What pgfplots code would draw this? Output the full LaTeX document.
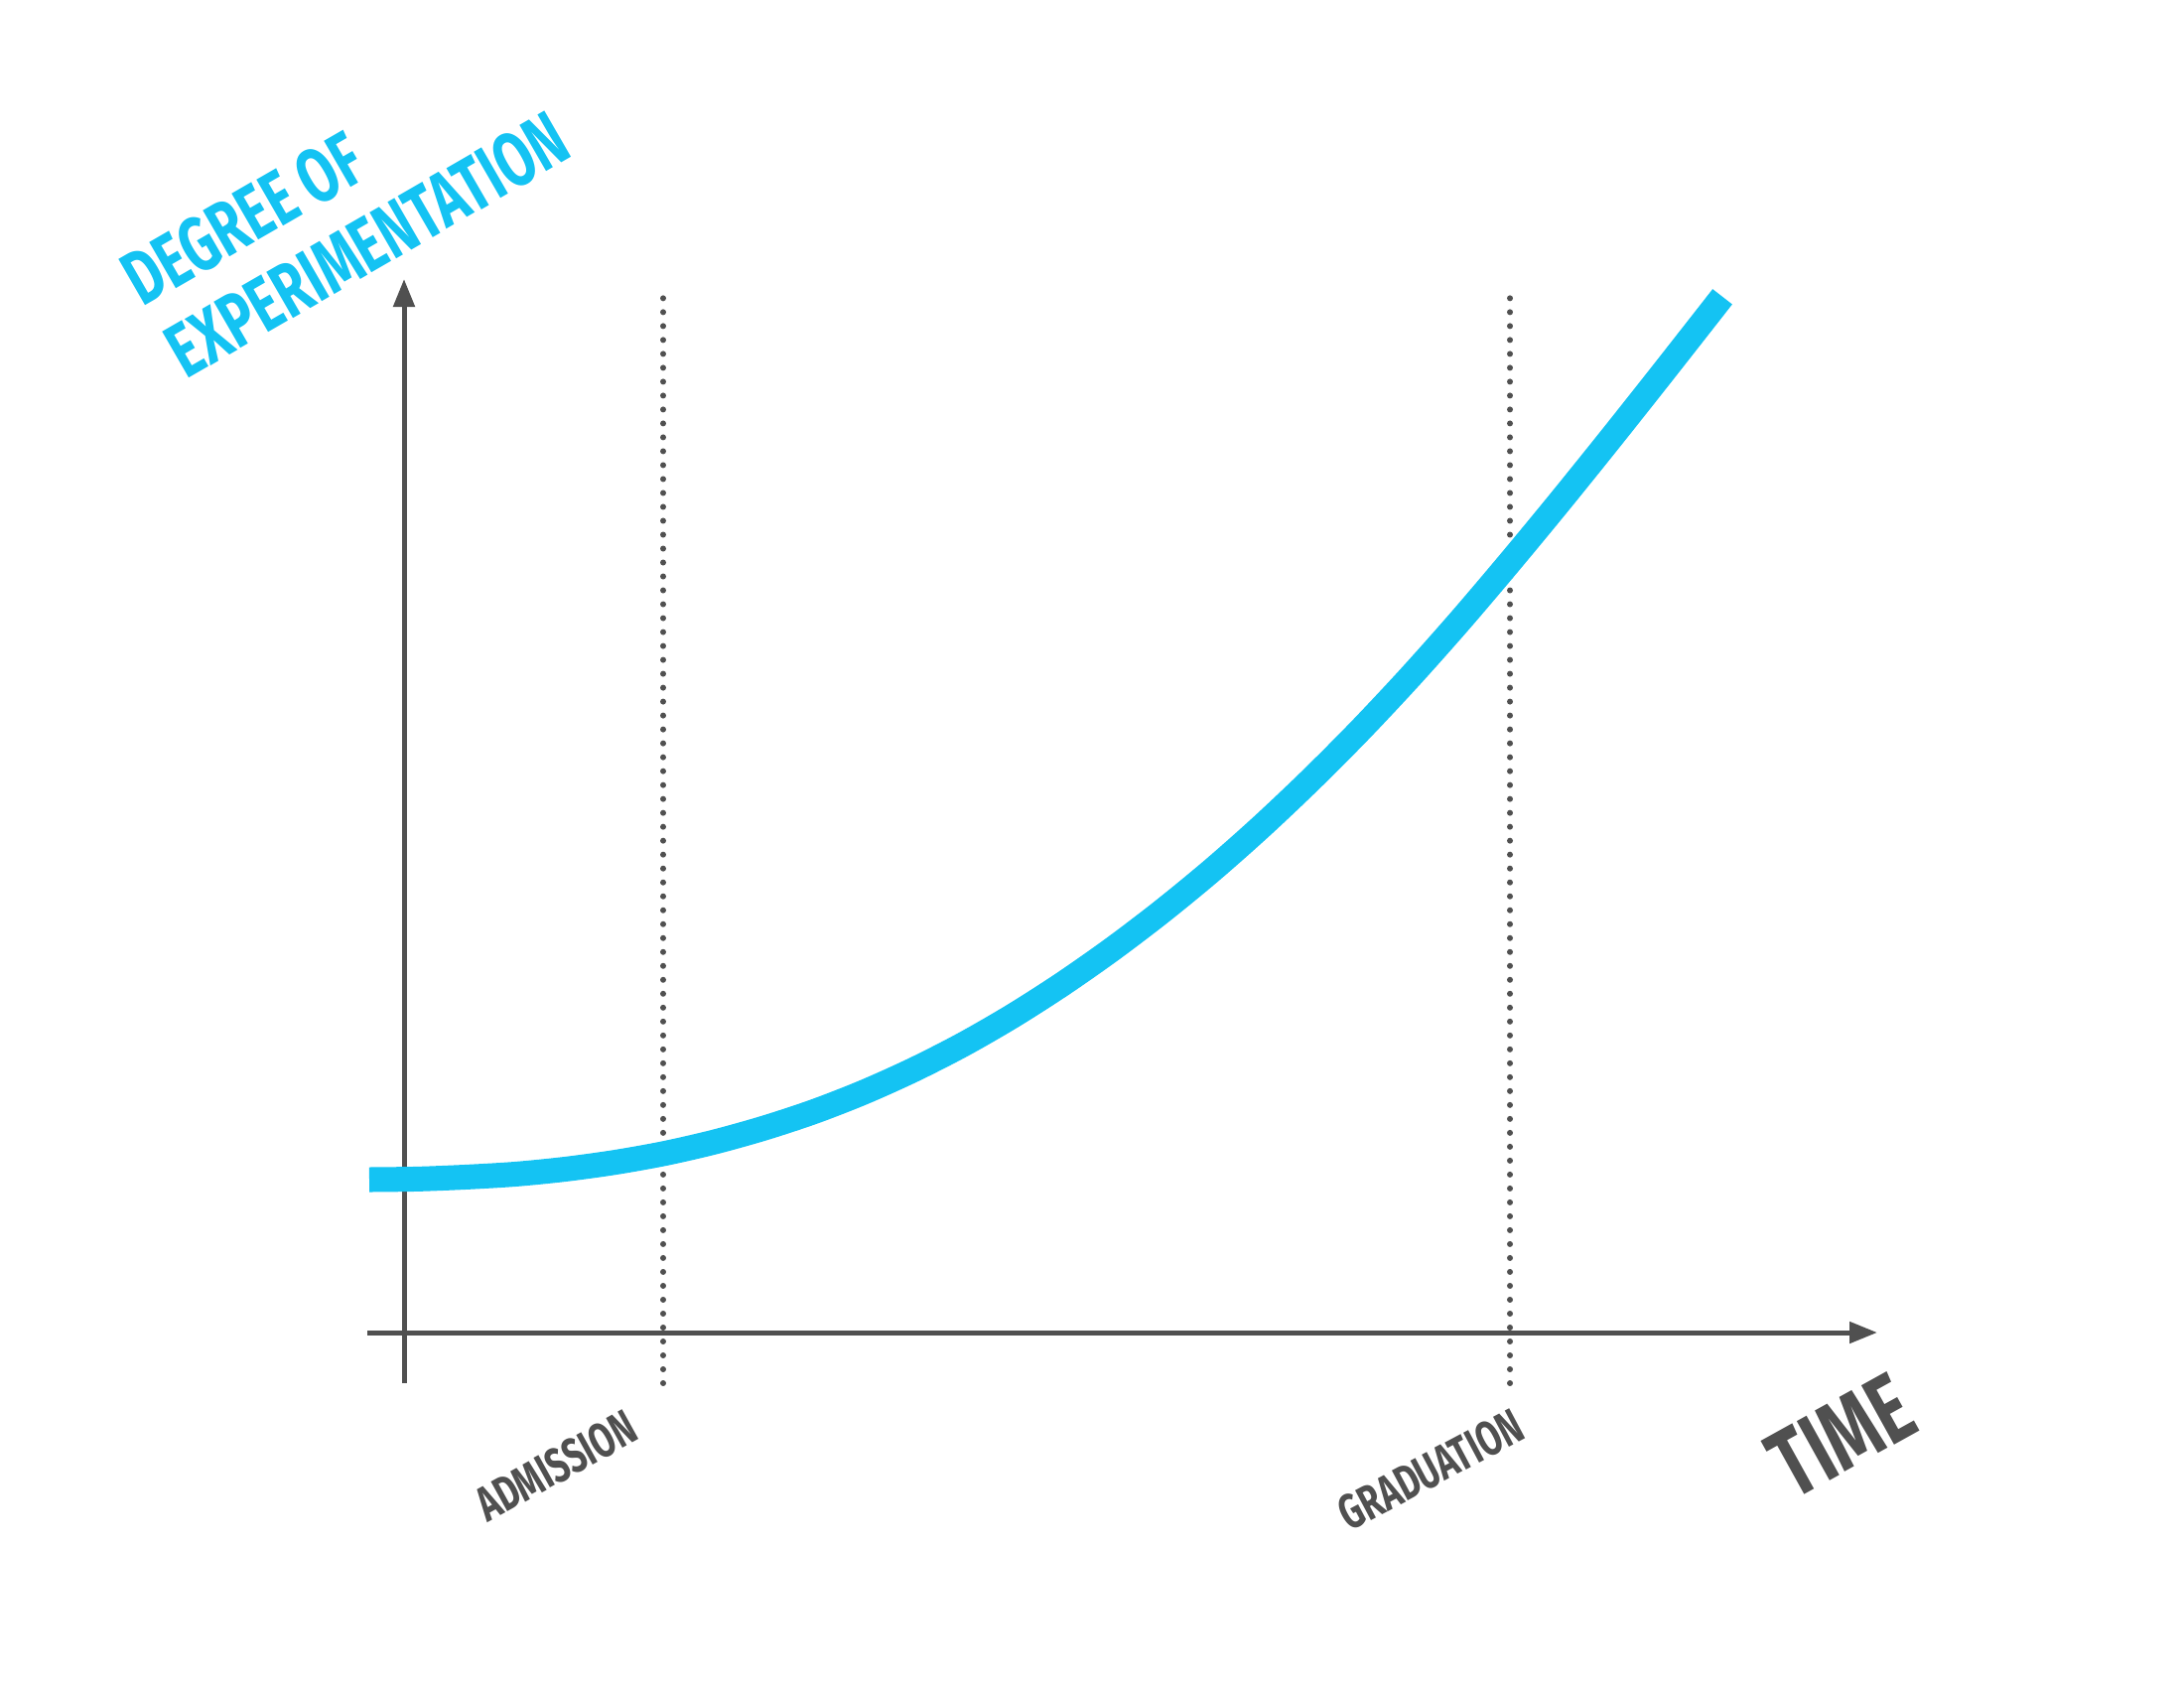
\documentclass[border=0pt]{standalone}
\usepackage{pgfplots}
\pgfplotsset{compat=1.18}
\usepackage{fontspec}
\usetikzlibrary{arrows.meta}
\newfontfamily\din[FakeStretch=0.70]{Fira Sans}
\definecolor{skyb}{RGB}{20,195,243}
\definecolor{axgray}{RGB}{80,80,80}

\begin{document}
\begin{tikzpicture}
\begin{axis}[
    x=0.01cm, y=0.01cm,
    xmin=0, xmax=2200, ymin=0, ymax=1700,
    axis lines=none,
    ticks=none,
    clip=false,
]
    % keep the page at the full frame
    \path (axis cs:0,0) rectangle (axis cs:2200,1700);

    % milestones
    \addplot[axgray, line width=0.06cm, line cap=round,
        dash pattern=on 0pt off 0.14cm] coordinates {(668,307) (668,1403)};
    \addplot[axgray, line width=0.06cm, line cap=round,
        dash pattern=on 0pt off 0.14cm] coordinates {(1521,307) (1521,1403)};

    % axes
    \addplot[axgray, line width=0.05cm,
        -{Triangle[length=0.28cm, width=0.21cm]}] coordinates {(407,307) (407,1419)};
    \addplot[axgray, line width=0.05cm,
        -{Triangle[length=0.28cm, width=0.21cm]}] coordinates {(370,358) (1891,358)};

    % experimentation curve
    \addplot[skyb, line width=0.25cm, smooth] coordinates {
(372,512)
(420,512.6)
(470,514.6)
(520,517.6)
(570,522.6)
(620,529.5)
(670,538.5)
(720,550)
(770,564)
(820,580.5)
(870,600)
(920,622.5)
(970,648)
(1020,676.8)
(1070,708.8)
(1120,743.8)
(1170,781.8)
(1220,822.8)
(1270,867)
(1320,914.3)
(1370,964.5)
(1420,1017.8)
(1470,1074)
(1520,1132.8)
(1570,1193.3)
(1620,1255.3)
(1670,1318.3)
(1720,1382)
(1735,1401.2)
    };

    \node[anchor=base west, rotate=30, inner sep=0, text=skyb,
        font=\din\bfseries\fontsize{22}{26}\selectfont] at (axis cs:143,1390) {DEGREE OF};
    \node[anchor=base west, rotate=30, inner sep=0, text=skyb,
        font=\din\bfseries\fontsize{22}{26}\selectfont] at (axis cs:187,1317) {EXPERIMENTATION};
    \node[anchor=base west, rotate=29, inner sep=0, text=axgray,
        font=\din\bfseries\fontsize{28}{32}\selectfont] at (axis cs:1806,188) {TIME};
    \node[anchor=base west, rotate=29, inner sep=0, text=axgray,
        font=\din\bfseries\fontsize{14}{17}\selectfont] at (axis cs:491,166) {ADMISSION};
    \node[anchor=base west, rotate=28, inner sep=0, text=axgray,
        font=\din\bfseries\fontsize{14}{17}\selectfont] at (axis cs:1359,157) {GRADUATION};
\end{axis}
\end{tikzpicture}
\end{document}
